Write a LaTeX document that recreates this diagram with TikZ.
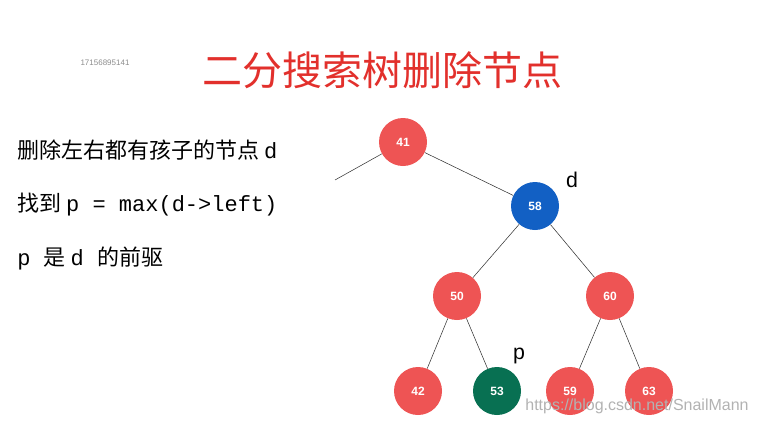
\documentclass[tikz,border=0pt]{standalone}
\usepackage{fontspec}
\setmainfont{Liberation Sans}
\setmonofont{Liberation Mono}
\newfontfamily\cjk{Noto Sans CJK SC}
\usetikzlibrary{positioning}
\definecolor{nodered}{RGB}{238,84,84}
\definecolor{nodeblue}{RGB}{18,96,196}
\definecolor{nodegreen}{RGB}{8,112,82}
\definecolor{titlered}{RGB}{226,48,44}

\begin{document}
\begin{tikzpicture}[x=0.75pt, y=-0.75pt,
    bb/.style={%
      circle, draw=none, fill=nodered, text=white, minimum size=36pt,
      inner sep=0pt, font=\bfseries\fontsize{9}{10}\selectfont
    },
    txt/.style={%
      anchor=west, inner sep=0pt, font=\fontsize{16.5}{18}\selectfont
    },
    lab/.style={%
      inner sep=0pt, font=\fontsize{16}{18}\selectfont
    }
]
    \useasboundingbox (0,0) rectangle (757,425);

    \node[font=\cjk\fontsize{30}{33}\selectfont, text=titlered] (title) at (382,70) {二分搜索树删除节点};
    \node[text=black!45, font=\fontsize{6}{7}\selectfont] (phone) at (105,63) {17156895141};

    \node[txt] (t1) at (17,150) {\cjk 删除左右都有孩子的节点\ \ttfamily d};
    \node[txt] (t2) at (17,205) {\cjk 找到\ \ttfamily p = max(d->left)};
    \node[txt] (t3) at (17,258) {\ttfamily p \cjk 是 \ttfamily d \cjk 的前驱};

    \node[bb] (41) at (403,142) {41};
    \node[bb, fill=nodeblue] (58) at (535,206) {58};
    \node[bb] (50) at (457,296) {50};
    \node[bb] (60) at (610,296) {60};
    \node[bb] (42) at (418,391) {42};
    \node[bb, fill=nodegreen] (53) at (497,391) {53};
    \node[bb] (59) at (570,391) {59};
    \node[bb] (63) at (649,391) {63};
    \coordinate (up) at (335,180);

    \node[lab] (d) at (572,180) {d};
    \node[lab] (p) at (519,356) {p};

    \path[draw=black!80] (41) edge (up)
          (41) edge (58)
          (58) edge (50)
          (58) edge (60)
          (50) edge (42)
          (50) edge (53)
          (60) edge (59)
          (60) edge (63)
    ;

    \node[text=black!30, font=\fontsize{12}{14}\selectfont] (mark) at (637,406) {https://blog.csdn.net/SnailMann};
\end{tikzpicture}
\end{document}
